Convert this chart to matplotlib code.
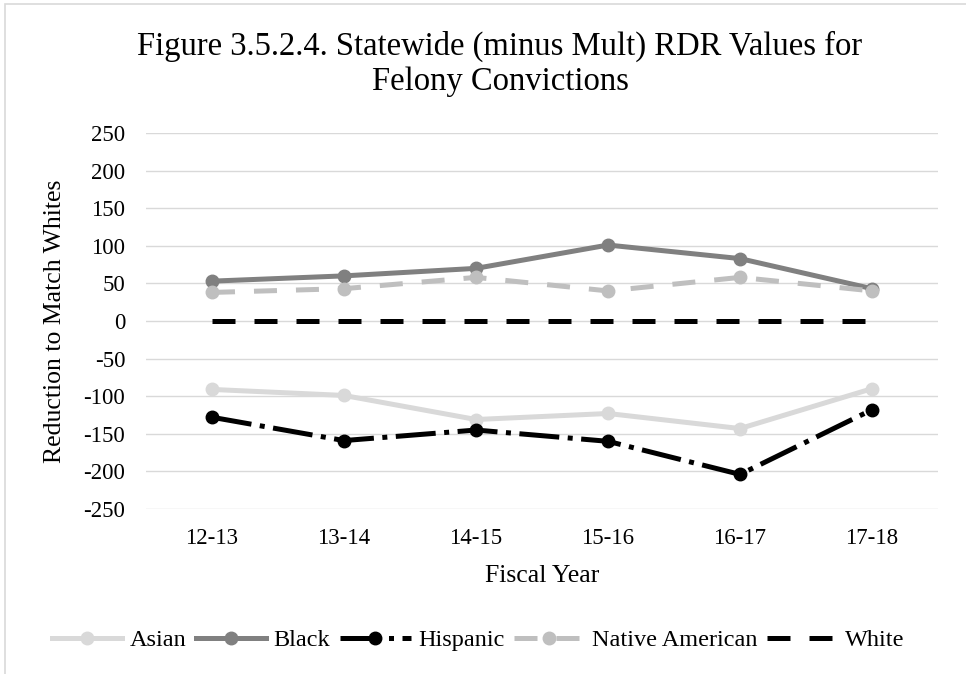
import matplotlib.pyplot as plt
from matplotlib.patches import Rectangle

plt.rcParams['font.family'] = ['Liberation Serif', 'DejaVu Serif']
plt.rcParams['axes.unicode_minus'] = False

# fiscal years on the x axis
years = ['12-13', '13-14', '14-15', '15-16', '16-17', '17-18']

# RDR values per group
asian = [-91, -99, -131, -123, -143, -90]
black = [53, 60, 70, 101, 83, 43]
hispanic = [-128, -159, -145, -160, -204, -118]
native_american = [38, 43, 58, 40, 58, 40]
white = [0, 0, 0, 0, 0, 0]

fig = plt.figure(figsize=(9.66, 6.74), dpi=100)
ax = fig.add_axes([146 / 966, 1 - 509 / 674, (938 - 146) / 966, (509 - 133) / 674])

# chart area border
fig.patches.append(Rectangle((5 / 966, -0.1), 1.1, 1 - 4 / 674 + 0.1,
                             transform=fig.transFigure, fill=False,
                             edgecolor='#D9D9D9', linewidth=1.2))

x = range(len(years))
lw = 3.6
ms = 9

dash = (0, (4.6, 3.8))
long_dash_dot = (0, (8, 1.7, 1.0, 1.7))

ax.plot(x, asian, color='#D9D9D9', lw=lw, marker='o', ms=ms, label='Asian', zorder=3)
ax.plot(x, black, color='#808080', lw=lw, marker='o', ms=ms, label='Black', zorder=3)
ax.plot(x, hispanic, color='#000000', lw=lw, marker='o', ms=ms,
        linestyle=long_dash_dot, label='Hispanic', zorder=3)
ax.plot(x, native_american, color='#BFBFBF', lw=lw, marker='o', ms=ms,
        linestyle=dash, label='Native American', zorder=3)
ax.plot(x, white, color='#000000', lw=lw, linestyle=dash, label='White', zorder=3)

ax.set_xlim(-0.5, 5.5)
ax.set_ylim(-250, 250)
ax.set_yticks(range(-250, 251, 50))
ax.set_xticks(list(x))
ax.set_xticklabels(years)
ax.tick_params(axis='both', length=0, labelsize=16.5, colors='#000000')
ax.tick_params(axis='x', pad=14)
ax.tick_params(axis='y', pad=15)
ax.grid(axis='y', color='#D9D9D9', lw=1.0)
ax.set_axisbelow(True)
for s in ax.spines.values():
    s.set_visible(False)

ax.set_ylabel('Reduction to Match Whites', fontsize=18.5, va='center')
ax.yaxis.set_label_coords(-0.115, 0.5)
ax.set_xlabel('Fiscal Year', fontsize=18.5, va='center')
ax.xaxis.set_label_coords(0.5, -0.178)

fig.text(500 / 966, 1 - 64 / 674, 'Figure 3.5.2.4. Statewide (minus Mult) RDR Values for\nFelony Convictions',
         ha='center', va='center', fontsize=23.5, linespacing=1.2)

fig.legend(loc='center', bbox_to_anchor=(478 / 966, 1 - 640 / 674), ncol=5, frameon=False,
           fontsize=17.5, handlelength=2.9, columnspacing=0.4, handletextpad=0.3)

fig.savefig('out.png', dpi=100, facecolor='white')
